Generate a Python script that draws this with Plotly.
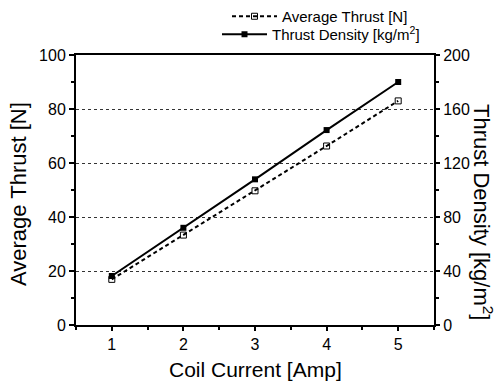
import plotly.graph_objects as go

current = [1, 2, 3, 4, 5]
avg_thrust = [16.9, 33.3, 49.7, 66.3, 83.0]
thrust_density = [36.3, 72.0, 107.9, 144.4, 180.0]

x_ticks = [1, 2, 3, 4, 5]
y1_ticks = [0, 20, 40, 60, 80, 100]
y2_ticks = [0, 40, 80, 120, 160, 200]

FONT = "Liberation Sans, Arial, sans-serif"
W, H = 497, 387
L, R, T, B = 76, 63, 55, 62

fig = go.Figure()
fig.add_trace(go.Scatter(
    x=current, y=avg_thrust, name="Average Thrust [N]",
    mode="lines+markers",
    line=dict(color="black", width=2, dash="4px,3px"),
    marker=dict(symbol="square-open", size=6, color="black", line=dict(width=1)),
    legend="legend",
))
fig.add_trace(go.Scatter(
    x=current, y=thrust_density, name="Thrust Density [kg/m<sup>2</sup>]",
    mode="lines+markers", yaxis="y2",
    line=dict(color="black", width=2),
    marker=dict(symbol="square", size=6, color="black"),
    legend="legend2",
))

fig.update_layout(
    width=W, height=H,
    margin=dict(l=L, r=R, t=T, b=B, autoexpand=False),
    paper_bgcolor="white", plot_bgcolor="white",
    font=dict(family=FONT, size=16, color="black"),
    xaxis=dict(
        range=[0.5, 5.5], tickvals=x_ticks, ticks="outside", ticklen=4,
        tickwidth=1.5, tickcolor="black",
        minor=dict(dtick=0.5, tick0=0.5, ticks="outside", ticklen=3, tickcolor="black"),
        showline=True, linecolor="black", linewidth=2, mirror=True,
        showgrid=False, zeroline=False,
        tickfont=dict(size=16),
    ),
    yaxis=dict(
        range=[0, 100], tickvals=y1_ticks, ticks="outside", ticklen=5,
        tickwidth=1.5, tickcolor="black",
        minor=dict(dtick=10, tick0=0, ticks="outside", ticklen=3, tickcolor="black", showgrid=False),
        showline=True, linecolor="black", linewidth=2,
        showgrid=True, gridcolor="#333", griddash="dot", gridwidth=1,
        zeroline=False, tickfont=dict(size=16),
    ),
    yaxis2=dict(
        range=[0, 200], tickvals=y2_ticks, overlaying="y", side="right",
        ticks="outside", ticklen=4, tickwidth=1.5, tickcolor="black",
        minor=dict(dtick=20, tick0=0, ticks="outside", ticklen=3, tickcolor="black", showgrid=False),
        showline=True, linecolor="black", linewidth=2,
        showgrid=False, zeroline=False, tickfont=dict(size=16),
    ),
    legend=dict(
        x=227 / W, xref="container", xanchor="left",
        y=1 + 3 / H, yref="container", yanchor="top",
        bgcolor="rgba(0,0,0,0)", borderwidth=0,
        font=dict(size=15), itemwidth=45, tracegroupgap=0,
    ),
    legend2=dict(
        x=217 / W, xref="container", xanchor="left",
        y=1 - 18 / H, yref="container", yanchor="top",
        bgcolor="rgba(0,0,0,0)", borderwidth=0,
        font=dict(size=15), itemwidth=45, tracegroupgap=0,
    ),
    showlegend=True,
)

pw, ph = W - L - R, H - T - B
def px_ann(text, x, y, size, angle=0):
    return dict(text=text, x=(x - L) / pw, y=1 - (y - T) / ph,
                xref="paper", yref="paper", xanchor="center", yanchor="middle",
                textangle=angle, showarrow=False, font=dict(size=size))

fig.update_layout(annotations=[
    px_ann("Coil Current [Amp]", 255, 369, 21),
    px_ann("Average Thrust [N]", 18, 194, 22, -90),
    px_ann("Thrust Density [kg/m<sup>2</sup>]", 483, 212, 22, 90),
])

fig.write_html("out.html")
